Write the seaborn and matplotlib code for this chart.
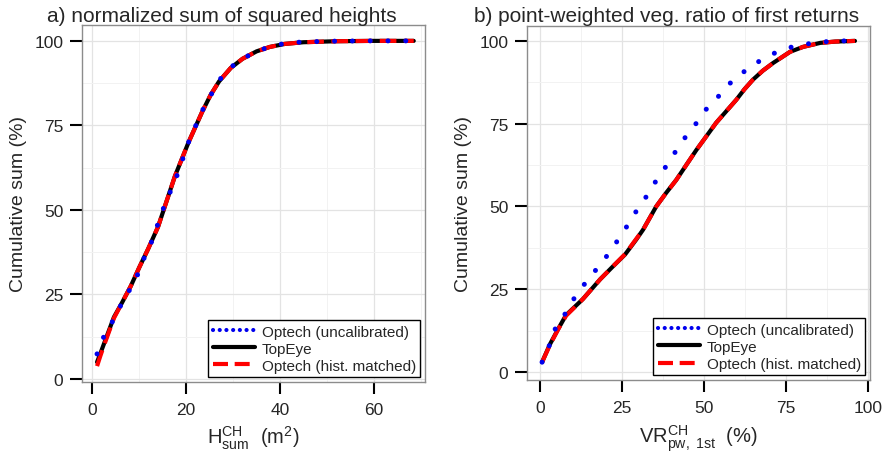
import numpy as np
import pandas as pd
import seaborn as sns
import matplotlib.pyplot as plt

# panel a) normalized sum of squared heights
a_top_x = [1.0, 1.7, 2.5, 4.6, 6.3, 8.2, 10.0, 11.9, 14.0, 15.8, 17.6, 20.5, 23.4, 25.2, 27.0, 29.5, 32.0, 35.0, 37.8, 41.0, 45.0, 52.0, 60.0, 68.5]
a_top_y = [5.0, 7.5, 10.5, 18.3, 22.5, 27.5, 33.0, 38.5, 45.0, 52.5, 60.0, 70.0, 79.0, 84.0, 88.0, 92.0, 94.7, 96.9, 98.2, 99.1, 99.6, 99.9, 100.0, 100.0]
a_hist_x = a_top_x
a_hist_y = [3.8, 6.8, 10.0, 18.0, 22.5, 27.5, 33.0, 38.5, 45.0, 52.5, 60.0, 70.0, 79.0, 84.0, 88.0, 92.0, 94.7, 96.9, 98.2, 99.1, 99.6, 99.9, 100.0, 100.0]
a_unc_x = [1.0, 2.4, 4.3, 6.0, 8.0, 9.7, 11.1, 12.6, 15.1, 16.5, 18.0, 20.5, 23.4, 25.4, 27.3, 29.9, 33.2, 36.4, 40.0, 43.9, 50.0, 58.0, 68.5]
a_unc_y = [7.4, 12.4, 17.0, 21.6, 26.5, 31.0, 36.0, 40.5, 50.3, 55.0, 60.0, 70.0, 79.3, 84.3, 88.8, 92.6, 95.6, 97.6, 99.0, 99.6, 99.9, 100.0, 100.0]

# panel b) point-weighted veg. ratio of first returns
b_top_x = [0.6, 3.0, 5.5, 7.9, 13.0, 18.3, 22.3, 25.9, 29.3, 31.4, 33.4, 35.4, 38.5, 41.5, 47.6, 53.7, 59.8, 62.3, 64.9, 67.9, 71.0, 76.2, 80.2, 85.4, 90.0, 96.0]
b_top_y = [3.0, 8.4, 13.0, 17.2, 22.0, 28.0, 32.0, 35.5, 40.0, 43.0, 46.5, 50.0, 54.2, 58.0, 67.0, 75.3, 82.2, 85.4, 88.3, 91.0, 93.3, 96.7, 98.2, 99.4, 99.8, 100.0]
b_hist_x = b_top_x
b_hist_y = [3.0, 8.2, 12.9, 17.0, 22.0, 28.0, 32.0, 35.6, 40.2, 43.0, 46.5, 50.0, 54.2, 58.0, 67.0, 75.3, 82.2, 85.4, 88.3, 91.0, 93.3, 96.7, 98.2, 99.4, 99.8, 100.0]
b_unc_x = [0.6, 2.8, 4.6, 7.4, 10.0, 13.0, 16.4, 19.8, 23.0, 26.2, 29.0, 32.0, 35.0, 38.1, 40.9, 44.2, 47.3, 50.3, 54.0, 57.3, 61.6, 66.0, 70.7, 75.6, 80.8, 86.0, 91.0, 96.0]
b_unc_y = [3.0, 8.0, 13.0, 17.2, 21.7, 25.9, 30.1, 34.3, 38.8, 43.6, 48.1, 52.4, 57.2, 61.7, 66.0, 70.8, 74.7, 79.0, 82.8, 86.7, 90.3, 93.4, 96.0, 97.9, 99.0, 99.7, 100.0, 100.0]

labels = ["Optech (uncalibrated)", "TopEye", "Optech (hist. matched)"]

sns.set_theme(style="white")
plt.rcParams['font.family'] = ['Liberation Sans', 'DejaVu Sans']
plt.rcParams['mathtext.fontset'] = 'custom'
plt.rcParams['mathtext.rm'] = 'Liberation Sans'
plt.rcParams['mathtext.it'] = 'Liberation Sans:italic'

fig = plt.figure(figsize=(8.86, 4.6), dpi=100)
ax_a = fig.add_axes([0.0926, 0.1674, 0.3871, 0.7761])
ax_b = fig.add_axes([0.5948, 0.1717, 0.3872, 0.7696])

LW = 3.0
LW_DOT = 3.6


def draw(ax, unc, top, hist):
    sns.lineplot(x=unc[0], y=unc[1], ax=ax, color="#0000ee", lw=LW_DOT,
                 sort=False, estimator=None, zorder=5,
                 linestyle=(0, (0.01, 3.55)), dash_capstyle='round')
    sns.lineplot(x=top[0], y=top[1], ax=ax, color="black", lw=LW,
                 sort=False, estimator=None, zorder=3)
    sns.lineplot(x=hist[0], y=hist[1], ax=ax, color="#ff0000", lw=LW,
                 sort=False, estimator=None, zorder=4,
                 linestyle=(0, (4.0, 1.8)))
    lines = ax.get_lines()
    leg = ax.legend(lines[:3], labels, loc="lower right", fontsize=11,
                    handlelength=2.75, handletextpad=0.45, labelspacing=0.2,
                    borderaxespad=0.3, borderpad=0.3, fancybox=False,
                    framealpha=1, edgecolor="black")
    leg.get_frame().set_linewidth(1.0)
    leg.get_lines()[0].set_linewidth(3.0)
    leg.get_lines()[0].set_linestyle((0, (0.01, 1.6)))
    leg.get_lines()[2].set_linestyle((0, (3.6, 1.6)))
    leg.set_zorder(10)


draw(ax_a, (a_unc_x, a_unc_y), (a_top_x, a_top_y), (a_hist_x, a_hist_y))
draw(ax_b, (b_unc_x, b_unc_y), (b_top_x, b_top_y), (b_hist_x, b_hist_y))

ax_a.set_xlim(-2.2, 70.9)
ax_a.set_ylim(-0.9, 104.7)
ax_a.set_xticks([0, 20, 40, 60])
ax_a.set_xticks([10, 30, 50, 70], minor=True)
ax_b.set_xlim(-4.0, 100.6)
ax_b.set_ylim(-2.4, 104.5)
ax_b.set_xticks([0, 25, 50, 75, 100])
ax_b.set_xticks([12.5, 37.5, 62.5, 87.5], minor=True)

for ax in (ax_a, ax_b):
    ax.set_yticks([0, 25, 50, 75, 100])
    ax.set_yticks([12.5, 37.5, 62.5, 87.5], minor=True)
    ax.grid(True, which="major", color="#e3e3e3", lw=0.9, zorder=0)
    ax.grid(True, which="minor", color="#f2f2f2", lw=0.7, zorder=0)
    ax.set_axisbelow(True)
    for s in ax.spines.values():
        s.set_color("#8c8c8c")
        s.set_linewidth(1.0)
    ax.tick_params(axis="both", which="major", direction="out", length=8.5,
                   width=1.5, color="black", labelsize=12.5, pad=5,
                   labelcolor="#262626", bottom=True, left=True)
    ax.tick_params(axis="x", which="major", pad=6)
    ax.tick_params(axis="both", which="minor", length=0)
    ax.set_ylabel("Cumulative sum (%)", fontsize=14, labelpad=5)

fig.text(0.25, 0.952, "a) normalized sum of squared heights", fontsize=15,
         ha="center", va="baseline")
fig.text(0.752, 0.952, "b) point-weighted veg. ratio of first returns", fontsize=15,
         ha="center", va="baseline")
ax_a.set_xlabel(r"$\mathrm{H}_{\mathrm{sum}}^{\mathrm{CH}}$  (m$^2$)", fontsize=14.5, labelpad=5)
ax_b.set_xlabel(r"$\mathrm{VR}_{\mathrm{pw,\ 1st}}^{\mathrm{CH}}$  (%)", fontsize=14.5, labelpad=5)

fig.savefig("out.png", dpi=100)
